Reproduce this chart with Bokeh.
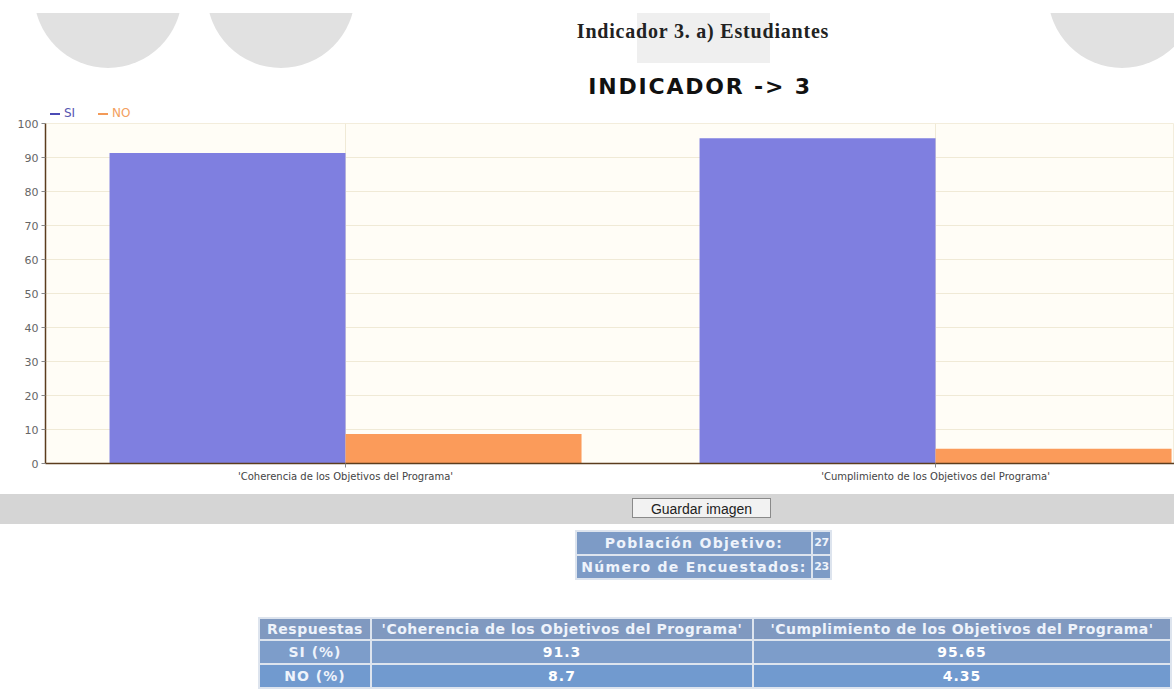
from bokeh.plotting import figure
from bokeh.models import ColumnDataSource, Range1d, FixedTicker, Div
from bokeh.transform import dodge
from bokeh.layouts import column
from bokeh.embed import file_html
from bokeh.resources import INLINE

# ---------------- data ----------------
page_title = "Indicador 3. a) Estudiantes"
chart_title = "INDICADOR -> 3"
categories = ["'Coherencia de los Objetivos del Programa'",
              "'Cumplimiento de los Objetivos del Programa'"]
si_values = [91.3, 95.65]
no_values = [8.7, 4.35]
series_names = ["SI", "NO"]
y_ticks = [0, 10, 20, 30, 40, 50, 60, 70, 80, 90, 100]
poblacion_objetivo = 27
numero_encuestados = 23
row_labels = ["SI (%)", "NO (%)"]
button_label = "Guardar imagen"

SI_COLOR = "#7f7fe0"
NO_COLOR = "#fb9b5a"
AXIS_COLOR = "#5c3d1e"
W = 1174

# ---------------- header (titles + legend) ----------------
circles = ""
for cx in (108, 281, 1122):
    r = 74
    circles += (f'<div style="position:absolute;left:{cx - r}px;top:{-93}px;'
                f'width:{2*r}px;height:{2*r}px;border-radius:50%;background:#e1e1e1;"></div>')

def legend_item(left, label, line_color, text_color):
    return (f'<div style="position:absolute;left:{left}px;top:106px;white-space:nowrap;line-height:14px;'
            f'font-family:\'DejaVu Sans\';font-size:12px;color:{text_color};">'
            f'<span style="display:inline-block;width:10px;height:2px;background:{line_color};'
            f'vertical-align:middle;margin-right:4px;"></span>{label}</div>')

header_html = f"""
<div style="position:relative;width:{W}px;height:118px;">
  <div style="position:absolute;left:0px;top:13px;width:{W}px;height:100px;overflow:hidden;">
    {circles}
    <div style="position:absolute;left:637px;top:0px;width:133px;height:50px;background:#efefef;"></div>
  </div>
  <div style="position:absolute;left:703px;top:17px;transform:translateX(-50%);white-space:nowrap;
       font-family:'Liberation Serif';font-weight:bold;font-size:20px;letter-spacing:0.8px;color:#222;">{page_title}</div>
  <div style="position:absolute;left:700px;top:71px;transform:translateX(-50%);white-space:nowrap;
       font-family:'DejaVu Sans';font-weight:bold;font-size:22px;letter-spacing:1.8px;color:#111;">{chart_title}</div>
  {legend_item(50, series_names[0], "#4b4bb5", "#5555b0")}
  {legend_item(98, series_names[1], "#f39a58", "#f3a060")}
</div>
"""
header = Div(text=header_html, width=W, height=118, margin=0)

# ---------------- chart ----------------
xpos = [i + 0.5 for i in range(len(categories))]
source = ColumnDataSource(dict(x=xpos, si=si_values, no=no_values, cat=categories))

p = figure(width=W, height=376, output_backend="svg", toolbar_location=None,
           x_range=Range1d(-0.0085, 1.905), y_range=Range1d(0, 100),
           min_border_left=45, min_border_right=0, min_border_top=5, min_border_bottom=31,
           margin=0)
p.background_fill_color = "#fffdf6"
p.border_fill_color = "white"
p.outline_line_color = "#f3eddc"

p.vbar(x=dodge("x", -0.2, range=p.x_range), top="si", width=0.4, source=source,
       fill_color=SI_COLOR, line_color=None)
p.vbar(x=dodge("x", 0.2, range=p.x_range), top="no", width=0.4, source=source,
       fill_color=NO_COLOR, line_color=None)

p.xaxis.ticker = FixedTicker(ticks=xpos)
p.xaxis.major_label_overrides = {x: c for x, c in zip(xpos, categories)}
p.yaxis.ticker = FixedTicker(ticks=y_ticks)
for ax in (p.xaxis, p.yaxis):
    ax.axis_line_color = AXIS_COLOR
    ax.axis_line_width = 1.5
    ax.major_tick_line_color = "#888888"
    ax.major_tick_out = 4
    ax.major_tick_in = 0
    ax.minor_tick_line_color = None
    ax.major_label_text_font = "DejaVu Sans"
    ax.major_label_standoff = 3
p.yaxis.major_label_text_font_size = "11px"
p.xaxis.major_label_text_font_size = "10px"
p.yaxis.major_label_text_color = "#666666"
p.xaxis.major_label_text_color = "#444444"
p.xgrid.grid_line_color = "#f0ead6"
p.ygrid.grid_line_color = "#f0ead6"

# ---------------- bottom (button + tables) ----------------
def cell(bg, color="#eef3fb", ls=1.0, fs=14):
    return (f"background:{bg};color:{color};font-family:'DejaVu Sans';font-weight:bold;"
            f"font-size:{fs}px;letter-spacing:{ls}px;text-align:center;padding:0;"
            "white-space:nowrap;overflow:hidden;")

small_table = f"""
<table style="position:absolute;left:575px;top:36px;border-collapse:separate;border-spacing:2px;
              background:#dde4ee;table-layout:fixed;width:257px;">
  <tr style="height:22px;"><td style="{cell('#7d9bc6', ls=1.3)}width:234px;">Población Objetivo:</td>
      <td style="{cell('#7d9bc6', ls=-0.5, fs=11)}width:17px;">{poblacion_objetivo}</td></tr>
  <tr style="height:22px;"><td style="{cell('#7d9bc6', ls=1.3)}width:234px;">Número de Encuestados:</td>
      <td style="{cell('#7d9bc6', ls=-0.5, fs=11)}width:17px;">{numero_encuestados}</td></tr>
</table>
"""
rows = ""
for lab, vals, bg in zip(row_labels, [si_values, no_values], ["#7d9dca", "#719acf"]):
    rows += f'<tr style="height:22px;"><td style="{cell(bg)}">{lab}</td>'
    for v in vals:
        rows += f'<td style="{cell(bg, "#ffffff")}">{v:g}</td>'
    rows += "</tr>"
big_table = f"""
<table style="position:absolute;left:258px;top:123px;border-collapse:separate;border-spacing:2px;
              background:#dde4ee;table-layout:fixed;width:914px;">
  <tr style="height:19px;"><td style="{cell('#8099c0', ls=0.5)}width:110px;">Respuestas</td>
      <td style="{cell('#8099c0', ls=0.5)}width:380px;">{categories[0]}</td>
      <td style="{cell('#8099c0', ls=0.5)}width:416px;">{categories[1]}</td></tr>
  {rows}
</table>
"""
bottom_html = f"""
<div style="position:relative;width:{W}px;height:190px;">
  <div style="position:absolute;left:0px;top:0px;width:{W}px;height:30px;background:#d5d5d5;"></div>
  <div style="position:absolute;left:632px;top:4px;width:139px;height:20px;background:#f2f2f2;
       border:1px solid #8a8a8a;font-family:'Liberation Sans';font-size:14px;color:#222;
       text-align:center;line-height:20px;">{button_label}</div>
  {small_table}
  {big_table}
</div>
"""
bottom = Div(text=bottom_html, width=W, height=190, margin=0)

layout = column(header, p, bottom, spacing=0)
open("out.html", "w").write(file_html(layout, INLINE))
